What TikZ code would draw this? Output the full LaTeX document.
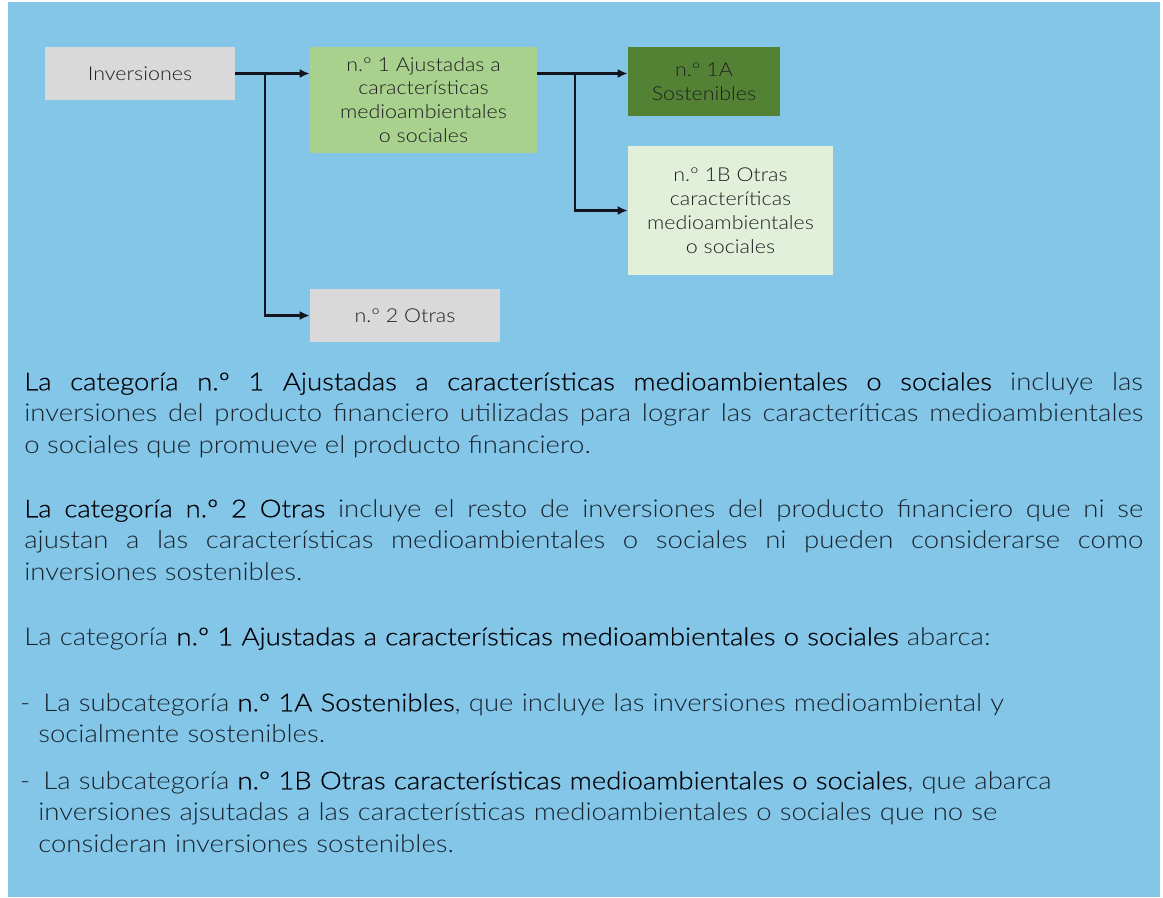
\documentclass[tikz,border=0pt]{standalone}
\usepackage{fontspec}
\usepackage{tikz}
\usetikzlibrary{arrows.meta,positioning}
\setmainfont{Lato}[FakeStretch=1.12]
\newfontfamily\latolight{Lato Light}[FakeStretch=1.12]
\newfontfamily\latobook{Lato Light}[FakeStretch=1.12,FakeBold=0.6]
\definecolor{bgblue}{RGB}{131,198,232}
\definecolor{greybox}{RGB}{217,217,217}
\definecolor{greenmid}{RGB}{169,209,142}
\definecolor{greendark}{RGB}{84,130,53}
\definecolor{greenpale}{RGB}{226,240,217}
\definecolor{boxtext}{RGB}{30,30,35}
\definecolor{bodytext}{RGB}{25,35,45}
\definecolor{hltext}{RGB}{5,5,10}
\definecolor{connline}{RGB}{20,20,30}
\newcommand\boxfont{\latolight\fontsize{10.9pt}{13.6pt}\selectfont}
\newcommand\parafont{\latolight\fontsize{14pt}{17.9pt}\selectfont}
\newcommand\hl[1]{{\latobook\color{hltext}#1}}
\begin{document}
\begin{tikzpicture}[x=0.02cm,y=-0.02cm,>={Latex[length=2mm,width=1.8mm]},
    box/.style={rectangle,inner sep=0pt,align=center,font=\boxfont,text=boxtext},
    conn/.style={->,draw=connline,line width=1.2pt},
    para/.style={anchor=north west,inner sep=0pt,font=\parafont,text=bodytext}]
    \useasboundingbox (0,0) rectangle (1163,897);
    \fill[white] (0,0) rectangle (1163,897);
    \fill[bgblue] (8,2) rectangle (1160,897);
    % diagram
    \node[box,fill=greybox,minimum width=3.8cm,minimum height=1.06cm] (inv) at (140,73.5) {Inversiones};
    \node[box,fill=greenmid,minimum width=4.54cm,minimum height=2.12cm] (aj) at (423.5,100) {n.º 1 Ajustadas a\\características\\medioambientales\\o sociales};
    \node[box,fill=greendark,minimum width=3.04cm,minimum height=1.38cm] (sos) at (704,81.5) {n.º 1A\\Sostenibles};
    \node[box,fill=greenpale,minimum width=4.1cm,minimum height=2.58cm] (otras1b) at (730.5,210.5) {n.º 1B Otras\\caracteríticas\\medioambientales\\o sociales};
    \node[box,fill=greybox,minimum width=3.8cm,minimum height=1.06cm] (otras2) at (405,315.5) {n.º 2 Otras};
    \coordinate (fork1) at (265,73.5);
    \coordinate (fork2) at (575,73.5);
    \draw[conn] (inv.east) -- (inv.east -| aj.west);
    \draw[conn] (fork1) |- (otras2.west);
    \draw[conn] (aj.east |- fork2) -- (sos.west |- fork2);
    \draw[conn] (fork2) |- (otras1b.west);
    % text
    \node[para,text width=22.38cm,align=justify] (p1) at (24,372) {\hl{La categoría n.º 1 Ajustadas a características medioambientales o sociales} incluye las\linebreak inversiones del producto financiero utilizadas para lograr las caracteríticas medioambientales\linebreak o sociales que promueve el producto financiero.};
    \node[para,text width=22.38cm,align=justify] (p2) at (24,499) {\hl{La categoría n.º 2 Otras} incluye el resto de inversiones del producto financiero que ni se\linebreak ajustan a las características medioambientales o sociales ni pueden considerarse como\linebreak inversiones sostenibles.};
    \node[para,text width=22.38cm,align=left] (p3) at (24,627) {La categoría \hl{n.º 1 Ajustadas a características medioambientales o sociales} abarca:};
    \node[para,text width=22cm,align=left] (b1) at (38,693) {\llap{-\hspace{0.16cm}}\hspace{0.1cm}La subcategoría \hl{n.º 1A Sostenibles}, que incluye las inversiones medioambiental y\\socialmente sostenibles.};
    \node[para,text width=22cm,align=left] (b2) at (38,771) {\llap{-\hspace{0.16cm}}\hspace{0.1cm}La subcategoría \hl{n.º 1B Otras características medioambientales o sociales}, que abarca\\inversiones ajsutadas a las características medioambientales o sociales que no se\\consideran inversiones sostenibles.};
\end{tikzpicture}
\end{document}
